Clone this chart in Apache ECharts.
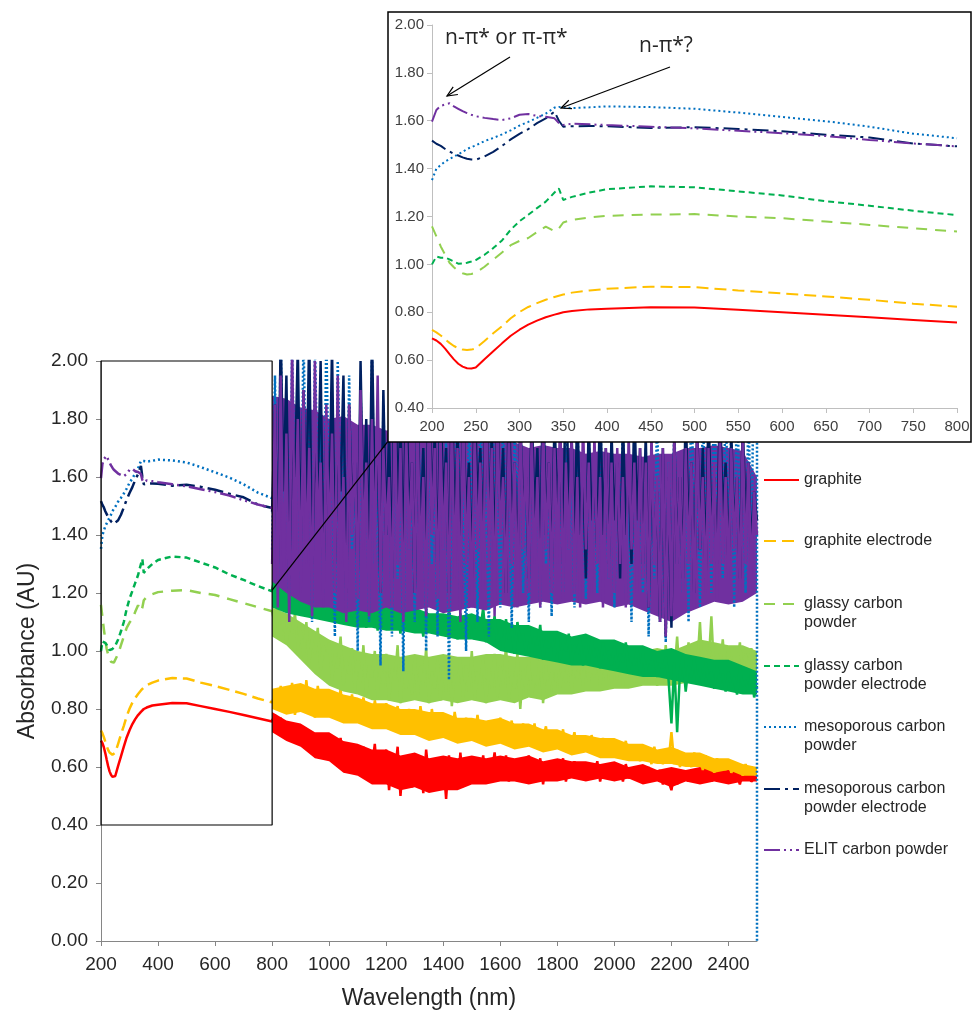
<!DOCTYPE html>
<html><head><meta charset="utf-8">
<script src="https://cdn.jsdelivr.net/npm/echarts@6/dist/echarts.min.js"></script>
<style>html,body{margin:0;padding:0;background:#fff}#c{width:974px;height:1016px}</style>
</head><body><div id="c"></div>
<script>
// ---------- DATA ----------
const SERIES_NAMES = ['graphite','graphite electrode','glassy carbon powder','glassy carbon powder electrode','mesoporous carbon powder','mesoporous carbon powder electrode','ELIT carbon powder'];
const LEGEND_LABELS = ['graphite','graphite electrode','glassy carbon\npowder','glassy carbon\npowder electrode','mesoporous carbon\npowder','mesoporous carbon\npowder electrode','ELIT carbon powder'];

// UV-Vis region (200-800 nm), shared by main chart and inset
const WL_UV = [200,205,210,215,220,225,230,235,240,245,250,260,270,280,290,300,310,320,330,340,345,350,360,380,400,450,500,550,600,650,700,750,800];
const graphiteUV = [0.691,0.682,0.668,0.648,0.625,0.603,0.585,0.573,0.566,0.565,0.569,0.604,0.637,0.670,0.702,0.727,0.748,0.765,0.779,0.790,0.795,0.800,0.805,0.812,0.815,0.821,0.820,0.810,0.800,0.790,0.779,0.768,0.757];
const graphiteElUV = [0.726,0.716,0.703,0.687,0.672,0.659,0.650,0.644,0.642,0.644,0.649,0.680,0.712,0.742,0.775,0.801,0.822,0.838,0.852,0.864,0.869,0.874,0.882,0.891,0.898,0.907,0.905,0.891,0.879,0.866,0.852,0.836,0.823];
const glassyUV = [1.159,1.117,1.075,1.040,1.007,0.988,0.972,0.963,0.958,0.960,0.965,0.990,1.020,1.050,1.080,1.098,1.110,1.135,1.158,1.138,1.150,1.175,1.186,1.196,1.203,1.208,1.210,1.200,1.193,1.179,1.165,1.151,1.137];
const glassyElUV = [1.000,1.033,1.028,1.028,1.021,1.012,1.003,1.004,1.007,1.012,1.018,1.040,1.068,1.100,1.145,1.180,1.207,1.235,1.262,1.300,1.317,1.269,1.282,1.300,1.314,1.326,1.322,1.305,1.288,1.264,1.245,1.224,1.206];
const mesoUV = [1.352,1.400,1.415,1.430,1.440,1.450,1.460,1.470,1.482,1.490,1.497,1.515,1.528,1.543,1.560,1.580,1.595,1.612,1.630,1.655,1.658,1.655,1.653,1.656,1.660,1.657,1.650,1.634,1.616,1.598,1.575,1.546,1.527];
const mesoElUV = [1.517,1.504,1.495,1.482,1.472,1.462,1.455,1.447,1.441,1.438,1.437,1.451,1.470,1.495,1.522,1.545,1.565,1.590,1.610,1.638,1.600,1.575,1.577,1.578,1.577,1.570,1.573,1.566,1.556,1.542,1.530,1.505,1.493];
const elitUV = [1.596,1.645,1.662,1.668,1.673,1.660,1.650,1.640,1.632,1.625,1.619,1.612,1.607,1.603,1.610,1.625,1.628,1.620,1.617,1.610,1.590,1.582,1.588,1.585,1.582,1.575,1.568,1.558,1.548,1.536,1.520,1.505,1.493];

// NIR region (800-2500 nm, every 10 nm): noisy traces
const NIR_START = 800, NIR_STEP = 10;
const graphiteNIR = [
0.76,0.78,0.73,0.77,0.72,0.75,0.70,0.74,0.71,0.73,
0.69,0.74,0.68,0.72,0.66,0.71,0.67,0.70,0.64,0.69,
0.71,0.63,0.68,0.62,0.70,0.61,0.66,0.60,0.67,0.59,
0.65,0.58,0.67,0.56,0.64,0.60,0.68,0.55,0.63,0.57,
0.66,0.52,0.62,0.57,0.67,0.50,0.63,0.55,0.61,0.53,
0.64,0.54,0.62,0.51,0.66,0.56,0.60,0.52,0.63,0.55,
0.62,0.49,0.64,0.55,0.61,0.53,0.65,0.54,0.60,0.56,
0.63,0.55,0.62,0.57,0.64,0.55,0.61,0.58,0.65,0.56,
0.62,0.57,0.64,0.55,0.61,0.58,0.63,0.56,0.62,0.59,
0.64,0.55,0.62,0.57,0.63,0.54,0.61,0.58,0.62,0.56,
0.61,0.57,0.63,0.55,0.60,0.58,0.62,0.56,0.60,0.57,
0.61,0.56,0.60,0.58,0.62,0.55,0.60,0.57,0.59,0.56,
0.60,0.57,0.59,0.55,0.61,0.56,0.59,0.57,0.60,0.56,
0.59,0.56,0.60,0.55,0.58,0.56,0.59,0.54,0.58,0.55,
0.52,0.58,0.54,0.59,0.56,0.58,0.55,0.59,0.56,0.58,
0.55,0.59,0.56,0.58,0.55,0.57,0.56,0.59,0.55,0.58,
0.56,0.59,0.55,0.57,0.54,0.58,0.56,0.57,0.55,0.56,
0.56];
const graphiteElNIR = [
0.82,0.86,0.80,0.88,0.79,0.85,0.81,0.89,0.78,0.84,
0.87,0.79,0.90,0.80,0.85,0.77,0.88,0.81,0.84,0.79,
0.86,0.78,0.84,0.80,0.87,0.76,0.83,0.79,0.85,0.77,
0.82,0.76,0.84,0.78,0.81,0.74,0.83,0.77,0.80,0.75,
0.82,0.73,0.80,0.76,0.81,0.72,0.79,0.75,0.80,0.73,
0.79,0.72,0.81,0.74,0.78,0.70,0.80,0.73,0.77,0.71,
0.78,0.72,0.76,0.70,0.79,0.73,0.75,0.69,0.77,0.72,
0.76,0.70,0.78,0.71,0.74,0.69,0.76,0.71,0.75,0.68,
0.77,0.69,0.74,0.71,0.76,0.68,0.73,0.70,0.75,0.67,
0.73,0.69,0.75,0.67,0.72,0.70,0.74,0.66,0.72,0.68,
0.71,0.67,0.73,0.66,0.70,0.68,0.72,0.65,0.70,0.67,
0.69,0.65,0.71,0.66,0.68,0.64,0.70,0.66,0.67,0.65,
0.68,0.64,0.67,0.65,0.69,0.63,0.66,0.64,0.67,0.62,
0.66,0.63,0.65,0.61,0.67,0.62,0.64,0.61,0.65,0.62,
0.72,0.61,0.66,0.60,0.64,0.62,0.63,0.60,0.65,0.61,
0.63,0.59,0.64,0.60,0.62,0.58,0.63,0.60,0.61,0.59,
0.62,0.58,0.61,0.59,0.60,0.57,0.61,0.58,0.60,0.59,
0.58];
const glassyNIR = [
1.14,1.08,1.16,1.05,1.12,1.03,1.10,1.06,1.13,1.01,
1.07,0.98,1.10,0.96,1.04,0.99,1.08,0.93,1.02,0.97,
1.03,0.90,0.99,0.94,1.05,0.88,0.97,0.92,1.01,0.86,
0.98,0.89,1.02,0.85,0.95,0.91,1.00,0.84,0.96,0.88,
0.99,0.83,0.94,0.90,1.02,0.82,0.96,0.87,0.93,0.85,
0.98,0.84,0.95,0.88,1.01,0.82,0.93,0.87,0.97,0.83,
0.94,0.86,0.99,0.81,0.92,0.88,0.97,0.84,0.95,0.86,
1.00,0.83,0.93,0.88,0.98,0.82,0.94,0.87,0.99,0.84,
0.95,0.88,1.02,0.83,0.93,0.87,0.99,0.80,0.94,0.86,
0.97,0.84,0.92,0.88,1.00,0.82,0.95,0.86,0.93,0.85,
0.98,0.87,0.94,0.89,1.00,0.86,0.95,0.90,0.97,0.88,
0.99,0.89,0.95,0.91,1.00,0.88,0.96,0.90,0.98,0.89,
0.97,0.90,1.01,0.88,0.95,0.91,0.99,0.89,0.96,0.92,
1.00,0.89,0.96,0.92,0.98,0.88,0.95,0.91,1.02,0.90,
0.97,0.92,1.05,0.89,0.99,0.93,1.03,0.90,0.98,0.94,
1.10,0.91,1.00,0.95,1.12,0.92,0.99,0.94,1.04,0.91,
1.01,0.93,0.98,0.95,1.03,0.92,0.99,0.94,1.01,0.95,
0.96];
const glassyElNIR = [
1.21,1.26,1.15,1.24,1.18,1.28,1.13,1.22,1.17,1.25,
1.14,1.21,1.16,1.24,1.12,1.19,1.15,1.22,1.11,1.18,
1.14,1.20,1.10,1.17,1.13,1.21,1.09,1.16,1.12,1.19,
1.10,1.17,1.12,1.08,1.18,1.11,1.15,1.07,1.16,1.10,
1.14,1.08,1.17,1.10,1.13,1.06,1.16,1.09,1.12,1.07,
1.15,1.08,1.12,1.05,1.14,1.09,1.11,1.06,1.13,1.08,
1.11,1.05,1.14,1.07,1.10,1.04,1.13,1.06,1.09,1.05,
1.12,1.04,1.10,1.07,1.15,1.03,1.09,1.06,1.12,1.02,
1.08,1.01,1.11,1.04,1.07,0.99,1.10,1.03,1.06,1.00,
1.08,0.99,1.05,1.02,1.09,0.97,1.04,1.01,1.06,0.98,
1.05,0.97,1.03,1.00,1.06,0.96,1.02,0.99,1.04,0.95,
1.02,0.96,1.04,0.98,1.01,0.94,1.03,0.97,1.00,0.95,
1.02,0.94,0.99,0.96,1.03,0.93,0.98,0.95,1.01,0.92,
0.99,0.93,0.97,0.95,1.00,0.91,0.96,0.94,0.98,0.90,
0.75,0.96,0.72,0.93,0.98,0.86,0.95,0.91,0.97,0.89,
0.94,0.88,0.96,0.90,0.93,0.87,0.95,0.89,0.92,0.86,
0.93,0.87,0.91,0.85,0.94,0.88,0.90,0.86,0.92,0.84,
0.88];
const mesoNIR = [
1.35,1.95,1.20,2.10,1.40,1.85,1.15,2.05,1.50,1.75,
1.25,2.10,1.45,1.90,1.10,2.05,1.55,1.80,1.20,2.10,
1.40,1.70,1.05,2.00,1.50,1.85,1.15,1.95,1.35,1.65,
1.00,1.90,1.45,1.75,1.10,2.05,1.30,1.60,0.95,1.85,
1.40,1.70,1.05,1.95,1.25,1.65,0.93,1.80,1.35,1.55,
1.10,1.90,1.45,1.70,1.00,1.85,1.30,1.60,1.05,2.00,
1.35,1.75,0.90,1.65,1.40,1.95,1.15,1.55,1.00,1.80,
1.45,1.70,1.10,1.90,1.30,1.60,1.05,2.05,1.40,1.65,
1.15,1.85,1.35,1.60,1.08,1.75,1.45,1.95,1.20,1.55,
1.10,1.80,1.40,1.65,1.15,2.00,1.30,1.55,1.12,1.75,
1.45,1.70,1.20,1.90,1.35,1.60,1.15,1.80,1.40,1.55,
1.18,1.75,1.30,1.65,1.20,1.85,1.40,1.55,1.25,1.70,
1.15,1.65,1.35,1.80,1.20,1.55,1.10,1.75,1.30,1.60,
1.20,1.70,1.05,1.60,1.25,1.85,1.10,1.55,1.03,1.65,
1.15,1.80,1.30,1.55,1.20,1.75,1.10,1.95,1.35,1.65,
1.15,1.85,1.40,1.70,1.20,2.00,1.30,1.75,1.25,1.90,
1.35,1.80,1.15,1.95,1.40,1.70,1.20,1.85,1.30,2.10,
2.10];
const mesoEndDrop = [2500, 0.00];
const mesoElNIR = [
1.48,1.85,1.30,2.10,1.55,1.95,1.25,1.75,1.60,2.05,
1.35,1.90,1.50,2.10,1.30,1.70,1.55,2.00,1.25,1.80,
1.45,2.05,1.30,1.75,1.55,1.95,1.20,1.85,1.50,1.65,
1.25,2.00,1.45,1.80,1.30,2.10,1.50,1.70,1.20,1.90,
1.40,1.75,1.25,2.05,1.50,1.80,1.30,1.95,1.45,1.65,
1.20,1.85,1.40,1.70,1.30,2.05,1.45,1.75,1.25,1.90,
1.50,1.70,1.20,1.95,1.40,1.75,1.30,1.85,1.45,1.65,
1.25,1.90,1.50,1.70,1.35,2.00,1.40,1.75,1.30,1.85,
1.45,1.70,1.20,1.90,1.40,1.65,1.30,1.80,1.50,1.60,
1.25,1.85,1.45,1.70,1.30,1.95,1.40,1.65,1.25,1.80,
1.50,1.70,1.30,2.05,1.45,1.75,1.35,1.85,1.40,1.65,
1.25,1.80,1.45,1.60,1.35,1.90,1.40,1.70,1.30,1.75,
1.45,1.65,1.25,1.80,1.40,1.60,1.30,1.85,1.45,1.70,
1.30,1.75,1.15,1.65,1.35,1.55,1.10,1.70,1.05,1.60,
1.08,1.75,1.30,1.60,1.25,1.85,1.40,1.65,1.20,1.80,
1.35,1.70,1.25,1.85,1.40,1.60,1.30,1.90,1.45,1.65,
1.30,1.75,1.40,1.60,1.25,1.80,1.45,1.65,1.35,1.55,
1.45];
const elitNIR = [
1.30,1.85,1.15,1.95,1.25,1.75,1.10,2.05,1.35,1.80,
1.20,1.90,1.30,1.70,1.12,2.00,1.40,1.65,1.15,1.85,
1.35,1.75,1.20,1.95,1.30,1.60,1.10,1.85,1.40,1.70,
1.18,1.90,1.35,1.65,1.12,1.80,1.30,1.95,1.20,1.70,
1.40,1.60,1.15,1.85,1.30,1.70,1.10,1.75,1.35,1.65,
1.20,1.80,1.30,1.60,1.12,1.90,1.40,1.70,1.18,1.75,
1.35,1.65,1.15,1.80,1.25,1.70,1.10,1.85,1.30,1.60,
1.15,1.75,1.35,1.65,1.20,1.95,1.30,1.70,1.12,1.80,
1.40,1.60,1.18,1.75,1.30,1.65,1.15,1.85,1.35,1.70,
1.20,1.75,1.30,1.60,1.15,1.80,1.35,1.65,1.20,1.70,
1.30,1.85,1.18,1.65,1.35,1.75,1.20,1.60,1.15,1.80,
1.35,1.65,1.20,1.75,1.30,1.60,1.15,1.70,1.25,1.65,
1.20,1.70,1.30,1.60,1.15,1.75,1.35,1.65,1.20,1.70,
1.25,1.65,1.15,1.75,1.30,1.60,1.10,1.70,1.05,1.65,
1.12,1.75,1.25,1.60,1.20,1.70,1.30,1.65,1.15,1.75,
1.35,1.60,1.20,1.70,1.30,1.65,1.18,1.75,1.30,1.60,
1.25,1.70,1.35,1.60,1.20,1.75,1.30,1.65,1.25,1.55,
1.40];

// NIR dense-noise envelopes (800-2500 nm, every 50 nm): lower / upper edge of the solid band
const BAND_START = 800, BAND_STEP = 50;
const graphiteLow  = [0.72,0.69,0.67,0.63,0.62,0.58,0.57,0.54,0.54,0.52,0.53,0.51,0.52,0.52,0.54,0.54,0.55,0.55,0.54,0.55,0.55,0.56,0.55,0.56,0.55,0.56,0.54,0.55,0.53,0.55,0.54,0.55,0.54,0.55,0.55];
const graphiteHigh = [0.79,0.76,0.75,0.72,0.72,0.69,0.68,0.66,0.66,0.64,0.65,0.63,0.64,0.63,0.64,0.63,0.64,0.63,0.64,0.62,0.63,0.62,0.62,0.61,0.62,0.60,0.61,0.59,0.60,0.59,0.60,0.59,0.59,0.58,0.57];
const graphiteElLow  = [0.80,0.78,0.79,0.77,0.77,0.75,0.75,0.73,0.73,0.71,0.71,0.69,0.70,0.68,0.69,0.67,0.68,0.66,0.67,0.65,0.66,0.64,0.65,0.63,0.63,0.62,0.62,0.61,0.61,0.60,0.60,0.58,0.59,0.57,0.57];
const graphiteElHigh = [0.87,0.88,0.89,0.87,0.87,0.85,0.84,0.82,0.82,0.80,0.80,0.79,0.79,0.77,0.77,0.76,0.77,0.75,0.75,0.73,0.73,0.71,0.71,0.70,0.70,0.68,0.68,0.66,0.67,0.65,0.65,0.63,0.63,0.61,0.60];
const glassyLow  = [1.05,1.02,0.97,0.92,0.88,0.86,0.85,0.83,0.83,0.82,0.83,0.82,0.83,0.82,0.83,0.82,0.83,0.82,0.84,0.83,0.85,0.85,0.86,0.86,0.87,0.87,0.88,0.88,0.88,0.89,0.90,0.90,0.90,0.91,0.92];
const glassyHigh = [1.15,1.13,1.10,1.07,1.04,1.02,1.00,0.99,0.99,0.98,0.99,0.98,0.99,0.98,0.98,0.99,0.99,0.98,0.98,0.99,0.98,0.99,0.99,1.00,0.99,1.00,1.00,1.01,1.00,1.02,1.04,1.03,1.02,1.02,1.00];
const glassyElLow  = [1.15,1.13,1.12,1.11,1.10,1.09,1.08,1.08,1.07,1.07,1.06,1.06,1.05,1.04,1.04,1.03,1.00,0.99,0.98,0.97,0.96,0.95,0.95,0.94,0.93,0.92,0.91,0.91,0.90,0.89,0.88,0.87,0.86,0.85,0.85];
const glassyElHigh = [1.24,1.23,1.23,1.21,1.20,1.18,1.18,1.16,1.16,1.15,1.15,1.13,1.13,1.12,1.13,1.11,1.11,1.09,1.09,1.07,1.07,1.05,1.06,1.04,1.04,1.02,1.02,1.00,1.01,0.99,0.98,0.97,0.97,0.95,0.93];
const elitLow  = [1.24,1.20,1.17,1.15,1.15,1.13,1.14,1.13,1.15,1.13,1.14,1.15,1.13,1.14,1.15,1.14,1.16,1.15,1.16,1.17,1.16,1.17,1.16,1.17,1.15,1.16,1.14,1.12,1.10,1.13,1.15,1.17,1.16,1.17,1.20];
const elitHigh = [1.88,1.87,1.84,1.83,1.80,1.81,1.78,1.78,1.76,1.77,1.74,1.75,1.73,1.74,1.72,1.73,1.72,1.72,1.70,1.71,1.70,1.70,1.68,1.69,1.68,1.68,1.67,1.68,1.68,1.70,1.70,1.71,1.70,1.69,1.60];

// zoom box (data coords of the main chart) and its connector
const ZOOM_BOX = [[200,0.4],[200,2.0],[800,2.0],[800,0.4],[200,0.4]];
const CONNECTOR = [[800,1.21],[1204,1.72]];

// ---------- STYLE ----------
const COLORS = ['#FF0000','#FFC000','#92D050','#00B050','#0070C0','#002060','#7030A0'];
const DASHES = ['solid',[12,6],[11,8],[6,4],[2,3],[16,5,3,5],[16,4,2,4,2,4]];
const NIR_DASHES = ['solid','solid','solid','solid',[2,2],'solid','solid'];
const UV = [graphiteUV,graphiteElUV,glassyUV,glassyElUV,mesoUV,mesoElUV,elitUV];
const NIR = [graphiteNIR,graphiteElNIR,glassyNIR,glassyElNIR,mesoNIR,mesoElNIR,elitNIR];
const BANDS = [[graphiteLow,graphiteHigh],[graphiteElLow,graphiteElHigh],[glassyLow,glassyHigh],[glassyElLow,glassyElHigh],null,null,[elitLow,elitHigh]];
const BAND_Z  = [2.00,2.10,2.20,2.30,0,0,2.35];
const TRACE_Z = [2.05,2.15,2.25,2.32,2.40,2.50,2.60];

function uvPairs(arr){ return arr.map((v,i)=>[WL_UV[i], v]); }
function nirPairs(arr){ return arr.map((v,i)=>[NIR_START + i*NIR_STEP, v]); }
function bandRows(lo, hi){ return lo.map((v,i)=>[BAND_START + i*BAND_STEP, v, hi[i]]); }

function bandRenderer(color){
  return function(params, api){
    if (params.dataIndexInside !== 0) return null;
    const n = params.dataInsideLength;
    const upper = [], lower = [];
    for (let k = 0; k < n; k++){
      upper.push(api.coord([api.value(0,k), api.value(2,k)]));
      lower.push(api.coord([api.value(0,k), api.value(1,k)]));
    }
    return {type:'polygon', shape:{points: upper.concat(lower.reverse())}, style:{fill:color, stroke:null}};
  };
}

const FONT = '"Liberation Sans", Arial, sans-serif';
const series = [];
// main chart UV part (first => used by legend icons)
SERIES_NAMES.forEach((name,i)=>{
  series.push({
    name, type:'line', xAxisIndex:0, yAxisIndex:0, data:uvPairs(UV[i]),
    symbol:'none', showSymbol:false, animation:false, z:TRACE_Z[i],
    lineStyle:{color:COLORS[i], width:2.5, type:DASHES[i]}, itemStyle:{color:COLORS[i]}
  });
});
// NIR dense bands
SERIES_NAMES.forEach((name,i)=>{
  if (!BANDS[i]) return;
  series.push({name:name+' band', type:'custom', xAxisIndex:0, yAxisIndex:0, silent:true, animation:false,
    z:BAND_Z[i], data:bandRows(BANDS[i][0], BANDS[i][1]), encode:{x:0, y:[1,2]},
    renderItem:bandRenderer(COLORS[i])});
});
// NIR noisy traces
SERIES_NAMES.forEach((name,i)=>{
  const d = nirPairs(NIR[i]);
  if (i === 4) d.push(mesoEndDrop);
  series.push({
    name, type:'line', xAxisIndex:0, yAxisIndex:0, data:d,
    symbol:'none', showSymbol:false, animation:false, z:TRACE_Z[i],
    lineStyle:{color:COLORS[i], width:2.5, type:NIR_DASHES[i]}, itemStyle:{color:COLORS[i]}
  });
});
// inset
SERIES_NAMES.forEach((name,i)=>{
  series.push({
    name, type:'line', xAxisIndex:1, yAxisIndex:1, data:uvPairs(UV[i]),
    symbol:'none', showSymbol:false, animation:false, z:60,
    lineStyle:{color:COLORS[i], width:2, type:DASHES[i]}, itemStyle:{color:COLORS[i]}
  });
});
series.push({name:'box', type:'line', xAxisIndex:0, yAxisIndex:0, data:ZOOM_BOX, symbol:'none', clip:false, silent:true, animation:false, z:40, lineStyle:{color:'#000', width:1.2}});
series.push({name:'connector', type:'line', xAxisIndex:0, yAxisIndex:0, data:CONNECTOR, symbol:'none', clip:false, silent:true, animation:false, z:40, lineStyle:{color:'#000', width:1.2}});

const LEGEND_CENTERS = [480,541,604,666,727,789,850];
const legends = SERIES_NAMES.map((name,i)=>{
  const two = LEGEND_LABELS[i].indexOf('\n')>=0;
  return {
    data:[name], left:763, top: LEGEND_CENTERS[i] - (two?28.5:9.5), padding:0, orient:'vertical',
    itemWidth:35, itemHeight:12, selectedMode:false,
    itemStyle:{opacity:0},
    formatter: ()=> two ? '\n'+LEGEND_LABELS[i] : LEGEND_LABELS[i],
    textStyle:{fontFamily:FONT, fontSize:16, color:'#262626', lineHeight:19}
  };
});

function arrow(x1,y1,x2,y2){
  const a = Math.atan2(y2-y1, x2-x1), L = 11, s = 0.42;
  return [
    {type:'line', z:70, shape:{x1,y1,x2,y2}, style:{stroke:'#000', lineWidth:1.2}},
    {type:'polyline', z:70, shape:{points:[[x2-L*Math.cos(a-s), y2-L*Math.sin(a-s)],[x2,y2],[x2-L*Math.cos(a+s), y2-L*Math.sin(a+s)]]}, style:{stroke:'#000', fill:null, lineWidth:1.2}}
  ];
}

const chart = echarts.init(document.getElementById('c'));
chart.setOption({
  animation:false,
  backgroundColor:'#fff',
  grid:[
    {left:101, right:217, top:361, bottom:75},
    {left:432, right:17, top:25, bottom:608}
  ],
  xAxis:[
    {gridIndex:0, type:'value', min:200, max:2500, interval:200, name:'Wavelength (nm)', nameLocation:'middle', nameGap:46,
     nameTextStyle:{fontFamily:FONT, fontSize:23, color:'#262626'},
     axisLine:{lineStyle:{color:'#868686'}}, axisTick:{length:5, lineStyle:{color:'#868686'}},
     axisLabel:{fontFamily:FONT, fontSize:19, color:'#262626', margin:14, showMaxLabel:false, formatter:v=>String(v)}, splitLine:{show:false}},
    {gridIndex:1, type:'value', min:200, max:800, interval:50, z:55,
     axisLine:{lineStyle:{color:'#BFBFBF'}}, axisTick:{length:5, lineStyle:{color:'#BFBFBF'}},
     axisLabel:{fontFamily:FONT, fontSize:15, color:'#404040', margin:11, formatter:v=>String(v)}, splitLine:{show:false}}
  ],
  yAxis:[
    {gridIndex:0, type:'value', min:0, max:2, interval:0.2, name:'Absorbance (AU)', nameLocation:'middle', nameGap:62,
     nameTextStyle:{fontFamily:FONT, fontSize:23, color:'#262626'},
     axisLine:{show:true, lineStyle:{color:'#868686'}}, axisTick:{show:true, length:5, lineStyle:{color:'#868686'}},
     axisLabel:{fontFamily:FONT, fontSize:19, color:'#262626', margin:13, formatter:v=>v.toFixed(2)}, splitLine:{show:false}},
    {gridIndex:1, type:'value', min:0.4, max:2, interval:0.2, z:55,
     axisLine:{show:true, lineStyle:{color:'#BFBFBF'}}, axisTick:{show:true, length:5, lineStyle:{color:'#BFBFBF'}},
     axisLabel:{fontFamily:FONT, fontSize:15, color:'#404040', margin:8, formatter:v=>v.toFixed(2)}, splitLine:{show:false}}
  ],
  legend: legends,
  graphic:[
    {type:'rect', z:50, shape:{x:388, y:12, width:583, height:430}, style:{fill:'#fff', stroke:'#000', lineWidth:1.5}},
    {type:'text', z:70, x:445, y:38, style:{text:'n-π* or π-π*', font:'21px "Open Sans", sans-serif', fill:'#262626', verticalAlign:'middle'}},
    {type:'text', z:70, x:639, y:46, style:{text:'n-π*?', font:'21px "Open Sans", sans-serif', fill:'#262626', verticalAlign:'middle'}}
  ].concat(arrow(510,57,447,96), arrow(670,67,561,108)),
  series
});
</script>
</body></html>
